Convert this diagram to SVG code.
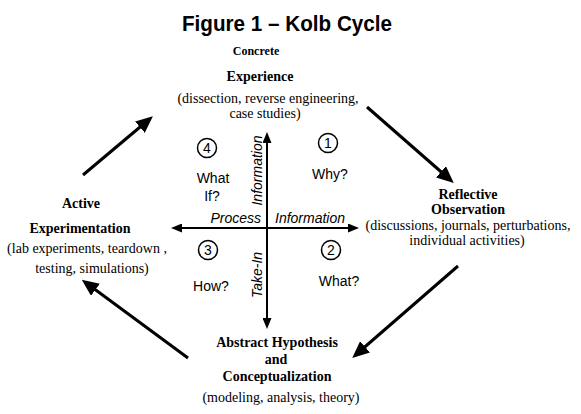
<svg xmlns="http://www.w3.org/2000/svg" width="581" height="414" viewBox="0 0 581 414">
<style>
.title{font-family:"Liberation Sans",Arial,sans-serif;font-weight:bold;font-size:22px;fill:#000}
.hd{font-family:"Liberation Serif","Times New Roman",serif;font-weight:bold;font-size:14px;fill:#000;text-anchor:middle}
.ds{font-family:"Liberation Serif","Times New Roman",serif;font-size:14px;fill:#000;text-anchor:middle}
.q{font-family:"Liberation Sans",Arial,sans-serif;font-size:14px;fill:#000;text-anchor:middle}
.ax{font-family:"Liberation Sans",Arial,sans-serif;font-style:italic;font-size:14px;fill:#000}
.num{font-family:"Liberation Sans",Arial,sans-serif;font-size:14px;fill:#000;text-anchor:middle}
.circ{fill:none;stroke:#000;stroke-width:1.5}
.big{stroke:#000;stroke-width:3;fill:none;marker-end:url(#bigHead)}
.axis{stroke:#000;stroke-width:2;fill:none;marker-start:url(#smallHead);marker-end:url(#smallHead)}
</style>
<defs>
<marker id="bigHead" markerUnits="userSpaceOnUse" markerWidth="17" markerHeight="15" refX="8" refY="7.5" orient="auto">
<path d="M0,0 L17,7.5 L0,15 z" fill="#000"/>
</marker>
<marker id="smallHead" markerUnits="userSpaceOnUse" markerWidth="11" markerHeight="9" refX="5" refY="4.5" orient="auto-start-reverse">
<path d="M0,0 L11,4.5 L0,9 z" fill="#000"/>
</marker>
</defs>
<rect width="581" height="414" fill="#fff"/>
<text class="title" x="287" y="31" text-anchor="middle" textLength="210" lengthAdjust="spacingAndGlyphs">Figure 1 – Kolb Cycle</text>

<g id="connectors">
<line class="big" x1="83" y1="175" x2="146" y2="122"/>
<line class="big" x1="367" y1="107" x2="447" y2="177"/>
<line class="big" x1="458" y1="266" x2="359" y2="352"/>
<line class="big" x1="188" y1="358" x2="89" y2="285"/>
<line class="axis" x1="267" y1="138" x2="267" y2="323"/>
<line class="axis" x1="177" y1="228" x2="353" y2="228"/>
</g>

<g id="axis-labels">
<text class="ax" x="261" y="223" text-anchor="end">Process</text>
<text class="ax" x="275" y="223">Information</text>
<text class="ax" transform="translate(262,170.5) rotate(-90)" text-anchor="middle">Information</text>
<text class="ax" transform="translate(262,275) rotate(-90)" text-anchor="middle">Take-In</text>
</g>

<g id="concrete-experience">
<text class="hd" x="256" y="55" style="font-size:12px">Concrete</text>
<text class="hd" x="260" y="81">Experience</text>
<text class="ds" x="268" y="103">(dissection, reverse engineering,</text>
<text class="ds" x="265" y="118">case studies)</text>
</g>

<g id="reflective-observation">
<text class="hd" x="468" y="199">Reflective</text>
<text class="hd" x="468" y="214">Observation</text>
<text class="ds" x="468" y="230">(discussions, journals, perturbations,</text>
<text class="ds" x="467" y="245">individual activities)</text>
</g>

<g id="abstract-conceptualization">
<text class="hd" x="277" y="347">Abstract Hypothesis</text>
<text class="hd" x="276" y="364">and</text>
<text class="hd" x="277" y="381">Conceptualization</text>
<text class="ds" x="281" y="402">(modeling, analysis, theory)</text>
</g>

<g id="active-experimentation">
<text class="hd" x="81" y="208">Active</text>
<text class="hd" x="80" y="233">Experimentation</text>
<text class="ds" x="87" y="253">(lab experiments, teardown ,</text>
<text class="ds" x="92" y="273">testing, simulations)</text>
</g>

<g id="quadrant-1">
<circle class="circ" cx="328" cy="143" r="9.5"/>
<text class="num" x="328" y="148">1</text>
<text class="q" x="330" y="179">Why?</text>
</g>
<g id="quadrant-2">
<circle class="circ" cx="331" cy="250" r="9.5"/>
<text class="num" x="331" y="255">2</text>
<text class="q" x="339" y="286">What?</text>
</g>
<g id="quadrant-3">
<circle class="circ" cx="208" cy="250" r="9.5"/>
<text class="num" x="208" y="255">3</text>
<text class="q" x="211" y="291">How?</text>
</g>
<g id="quadrant-4">
<circle class="circ" cx="207" cy="148" r="9.5"/>
<text class="num" x="207" y="153">4</text>
<text class="q" x="213" y="183">What</text>
<text class="q" x="212" y="201">If?</text>
</g>
</svg>
